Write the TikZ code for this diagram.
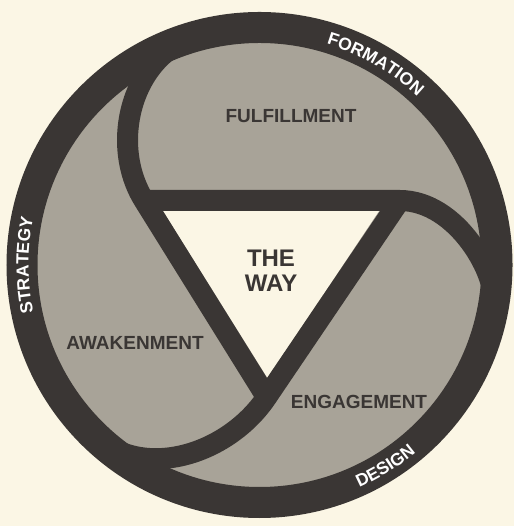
\documentclass[tikz,border=0pt]{standalone}
\usepackage{fontspec}
\setsansfont{Liberation Sans}
\usetikzlibrary{calc,decorations.text}
\definecolor{paper}{RGB}{251,246,229}
\definecolor{ink}{RGB}{58,54,52}
\definecolor{screen}{RGB}{168,163,152}

\begin{document}
\begin{tikzpicture}[
    x=1pt, y=1pt,
    band/.style={draw=ink, line width=21pt},
    phase/.style={font=\sffamily\bfseries\fontsize{19}{19}\selectfont, text=ink, inner sep=0pt},
    rim/.style={decorate, decoration={text along path, text align=center, text color=white,
        text={|\sffamily\bfseries\fontsize{17.5}{17.5}\selectfont|#1}}}
]
\fill[paper] (0,0) rectangle (514,526);
\useasboundingbox (0,0) rectangle (514,526);

\coordinate (c) at (259.5,261);
\fill[screen] (c) circle[radius=238pt];
\draw[ink, line width=31pt] (c) circle[radius=237.5pt];

\coordinate (tl) at (144.1,325.5);
\coordinate (tr) at (399.8,325.5);
\coordinate (bt) at (266.6,128.7);
\fill[paper] (163,315) -- (379,315) -- (267.5,148) -- cycle;

\draw[band] (tl) -- (tr) to[out=0, in=80, out looseness=1.05, in looseness=0.55] ($(c)+(-10:237.5pt)$);
\draw[band] (tr) -- (bt) to[out=-124, in=-45] ($(c)+(-135:237.5pt)$);
\draw[band] (bt) -- (tl) to[out=122, in=195] ($(c)+(105:237.5pt)$);

\node[phase] (fulfil) at (291,410) {FULFILLMENT};
\node[phase] (awake) at (135,183) {AWAKENMENT};
\node[phase] (engage) at (359,124) {ENGAGEMENT};
\node[phase, font=\sffamily\bfseries\fontsize{24}{25}\selectfont, align=center] (way) at (271,255.5) {THE\\WAY};

\path[rim=FORMATION] (c) ++(100:231pt) arc[start angle=100, end angle=20, radius=231pt];
\path[rim=STRATEGY] (c) ++(220:231pt) arc[start angle=220, end angle=140, radius=231pt];
\path[rim=DESIGN] (c) ++(-98:244pt) arc[start angle=-98, end angle=-18, radius=244pt];
\end{tikzpicture}
\end{document}
